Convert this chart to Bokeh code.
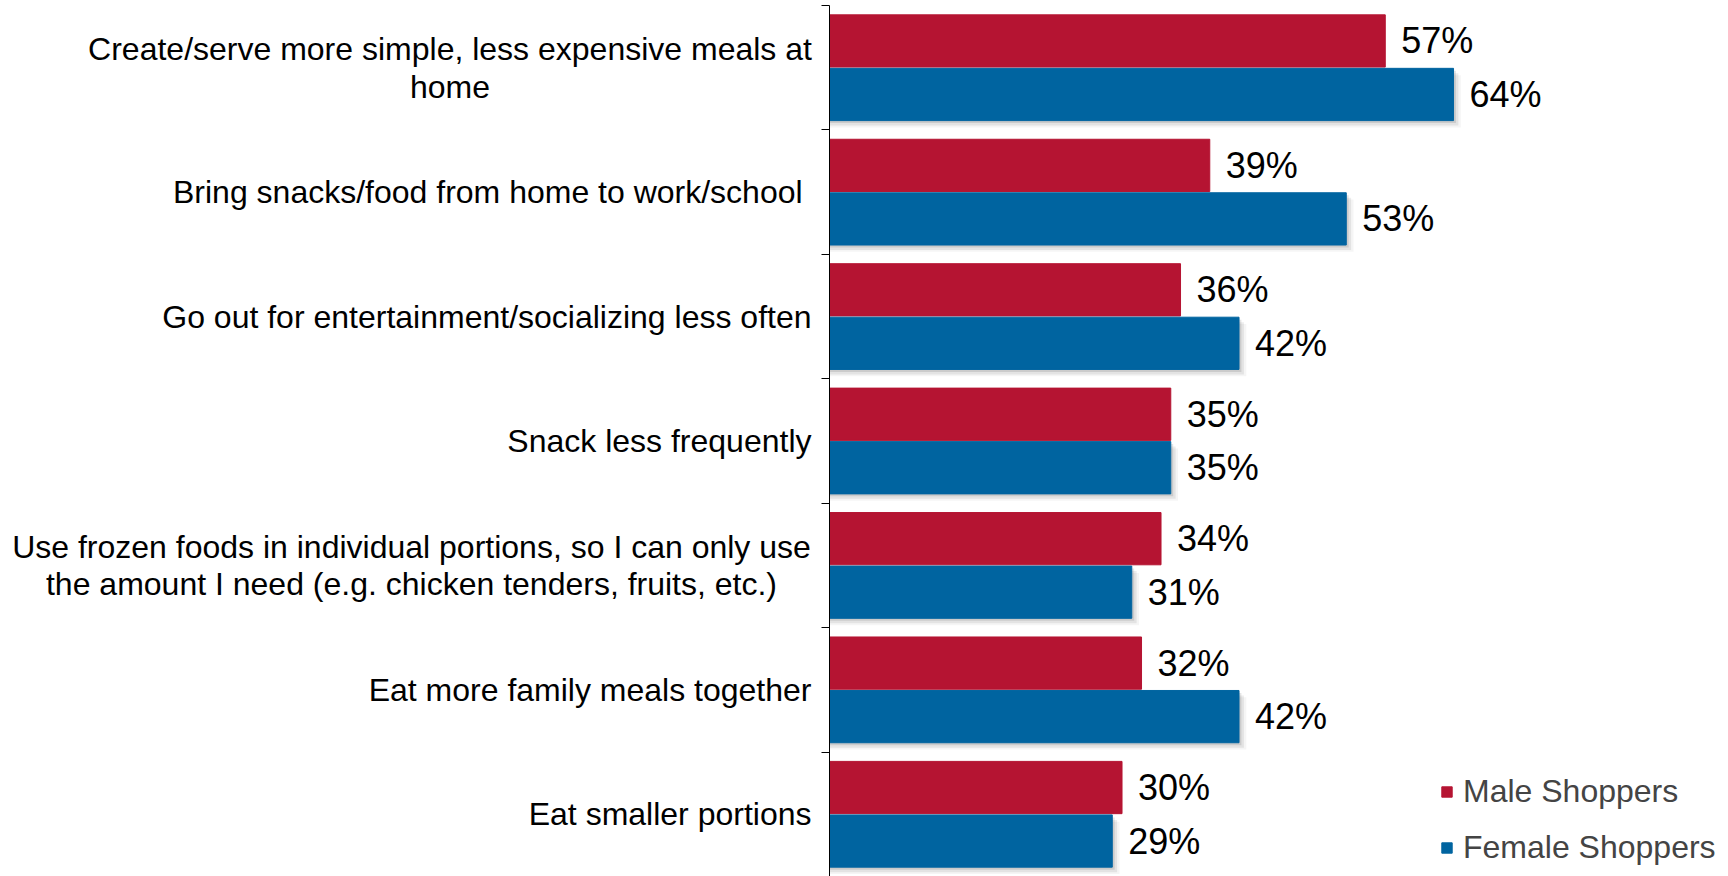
from bokeh.plotting import figure
from bokeh.layouts import row
from bokeh.models import Range1d, FixedTicker, ColumnDataSource, Legend
from bokeh.core.properties import value
from bokeh.embed import file_html
from bokeh.resources import INLINE

categories = [
    "Create/serve more simple, less expensive meals at\nhome",
    "Bring snacks/food from home to work/school ",
    "Go out for entertainment/socializing less often",
    "Snack less frequently",
    "Use frozen foods in individual portions, so I can only use\nthe amount I need (e.g. chicken tenders, fruits, etc.)",
    "Eat more family meals together",
    "Eat smaller portions",
]
male = [57, 39, 36, 35, 34, 32, 30]
female = [64, 53, 42, 35, 31, 42, 29]
series_names = ["Male Shoppers", "Female Shoppers"]

# layout constants (pixels)
LEFT_W = 819          # width of the label panel
AXIS_BORDER = 10      # left border of the bar figure (holds the ticks)
LABEL_RIGHT = 811     # right edge of the category labels inside the label panel
block_width = {0: 723, 4: 800}   # widest line of the two-line labels

RED = "#B51432"
BLUE = "#0064A0"
FONT = "Liberation Sans"

n = len(categories)
idx = list(range(n))
half = 0.215
ym = [i - half for i in idx]
yf = [i + half for i in idx]

yr = Range1d(n - 0.5, -0.5)

# ---- label panel ----
lp = figure(width=LEFT_W, height=876, output_backend="svg", toolbar_location=None,
            x_range=Range1d(0, LEFT_W), y_range=yr,
            min_border_left=0, min_border_right=0, min_border_top=5, min_border_bottom=0)
lp.outline_line_color = None
lp.grid.visible = False
lp.axis.visible = False

single = [i for i, c in enumerate(categories) if "\n" not in c]
multi = [i for i, c in enumerate(categories) if "\n" in c]
lp.text(x=[LABEL_RIGHT] * len(single), y=single, text=[categories[i] for i in single],
        text_align="right", text_baseline="middle",
        text_font=value(FONT), text_font_size="32px", text_color="black")
lp.text(x=[LABEL_RIGHT - block_width[i] / 2 for i in multi], y=multi,
        text=[categories[i] for i in multi],
        text_align="center", text_baseline="middle", text_line_height=1.05,
        text_font=value(FONT), text_font_size="32px", text_color="black")

# ---- bar figure ----
p = figure(width=1728 - LEFT_W, height=876, output_backend="svg", toolbar_location=None,
           x_range=Range1d(0, 92.2), y_range=yr,
           min_border_left=AXIS_BORDER, min_border_right=0, min_border_top=5, min_border_bottom=0)
p.outline_line_color = None
p.xgrid.visible = False
p.ygrid.visible = False
p.xaxis.visible = False

# soft shadow under female bars
for dx, dy, a in [(0.25, 0.02, 0.10), (0.5, 0.04, 0.07), (0.75, 0.055, 0.04)]:
    src = ColumnDataSource(dict(y=[v + dy for v in yf], right=[v + dx for v in female]))
    p.hbar(y="y", left=0, right="right", height=0.42, source=src,
           fill_color="black", fill_alpha=a, line_color=None)

rm = p.hbar(y=ym, left=0, right=male, height=0.42, fill_color=RED, line_color=RED)
rf = p.hbar(y=yf, left=0, right=female, height=0.42, fill_color=BLUE, line_color=BLUE)

p.text(x=male, y=ym, text=[f"{v}%" for v in male], x_offset=16,
       text_baseline="middle", text_align="left",
       text_font=value(FONT), text_font_size="36px", text_color="black")
p.text(x=female, y=yf, text=[f"{v}%" for v in female], x_offset=16,
       text_baseline="middle", text_align="left",
       text_font=value(FONT), text_font_size="36px", text_color="black")

ax = p.yaxis[0]
ax.ticker = FixedTicker(ticks=idx, minor_ticks=[i - 0.5 for i in range(n + 1)])
ax.major_label_overrides = {i: "" for i in idx}
ax.major_label_standoff = 0
ax.major_tick_out = 0
ax.major_tick_in = 0
ax.minor_tick_out = 8
ax.minor_tick_in = 0
ax.minor_tick_line_color = "black"
ax.axis_line_color = "black"

legend = Legend(items=[(series_names[0], [rm]), (series_names[1], [rf])],
                location=(611, 10), padding=0, margin=0, spacing=19,
                glyph_width=13, glyph_height=13, label_height=36, label_standoff=10,
                label_text_font=FONT, label_text_font_size="32px",
                border_line_color=None, background_fill_alpha=0)
p.add_layout(legend, "center")

layout = row(lp, p, spacing=0)
open("out.html", "w").write(file_html(layout, INLINE))
